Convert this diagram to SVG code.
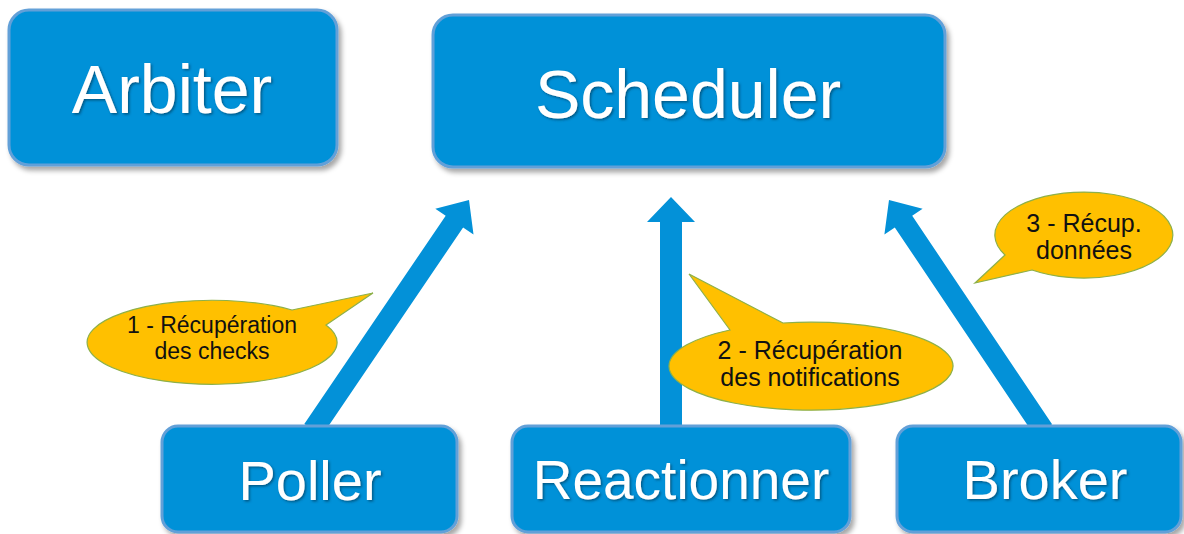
<svg xmlns="http://www.w3.org/2000/svg" width="1184" height="534" viewBox="0 0 1184 534">
<defs>
<filter id="boxShadow" x="-10%" y="-10%" width="125%" height="130%">
<feDropShadow dx="3" dy="4" stdDeviation="2.5" flood-color="#000" flood-opacity="0.35"/>
</filter>
<filter id="txtShadow" x="-10%" y="-20%" width="120%" height="150%">
<feDropShadow dx="1.5" dy="1.5" stdDeviation="1" flood-color="#003050" flood-opacity="0.6"/>
</filter>
<style>
.box{fill:#0391D8;stroke:#62A0D8;stroke-width:3;filter:url(#boxShadow)}
.lbl{fill:#fff;font-family:"Liberation Sans",Arial,sans-serif;text-anchor:middle;filter:url(#txtShadow)}
.arrow{fill:#0391D8}
.callout{fill:#FFC000;stroke:#8DB04A;stroke-width:1.2}
.ctxt{fill:#111;font-family:"Liberation Sans",Arial,sans-serif;text-anchor:middle}
</style>
</defs>
<rect width="1184" height="534" fill="#fff"/>
<g id="connectors">
<polygon class="arrow" points="304.3,424.1 445.7,215.7 435.3,208.7 469,200 473.5,234.5 463.1,227.5 321.7,435.9"/>
<polygon class="arrow" points="660,432 660,222 647,222 671,197 695,222 682,222 682,432"/>
<polygon class="arrow" points="1052.1,424.2 912.2,215.8 922.6,208.8 889,200 884.4,234.4 894.8,227.4 1034.7,435.8"/>
</g>
<g id="callout1">
<path class="callout" d="M292,310 L373,293 L326,325 A125 42 0 1 1 292,310 Z"/>
<text class="ctxt" x="212" y="333" font-size="23">1 - Récupération</text>
<text class="ctxt" x="212" y="359" font-size="23">des checks</text>
</g>
<g id="callout2">
<path class="callout" d="M783,323 L689,274 L730,330 A142 44 0 1 0 783,323 Z"/>
<text class="ctxt" x="810" y="359" font-size="25">2 - Récupération</text>
<text class="ctxt" x="810" y="386" font-size="25">des notifications</text>
</g>
<g id="callout3">
<path class="callout" d="M1005,255 L975,283 L1032,270 A89 43 0 1 0 1005,255 Z"/>
<text class="ctxt" x="1084" y="232" font-size="25">3 - Récup.</text>
<text class="ctxt" x="1084" y="259" font-size="25">données</text>
</g>
<g id="arbiter">
<rect class="box" x="9" y="10" width="328" height="155" rx="20"/>
<text class="lbl" x="172" y="113" font-size="68">Arbiter</text>
</g>
<g id="scheduler">
<rect class="box" x="433" y="15" width="512" height="152" rx="20"/>
<text class="lbl" x="688" y="118" font-size="68">Scheduler</text>
</g>
<g id="poller">
<rect class="box" x="162" y="426" width="295" height="106" rx="16"/>
<text class="lbl" x="310" y="500" font-size="56">Poller</text>
</g>
<g id="reactionner">
<rect class="box" x="512" y="426" width="338" height="106" rx="16"/>
<text class="lbl" x="681" y="499" font-size="55">Reactionner</text>
</g>
<g id="broker">
<rect class="box" x="897" y="426" width="284" height="106" rx="16"/>
<text class="lbl" x="1045" y="499" font-size="56">Broker</text>
</g>
</svg>
